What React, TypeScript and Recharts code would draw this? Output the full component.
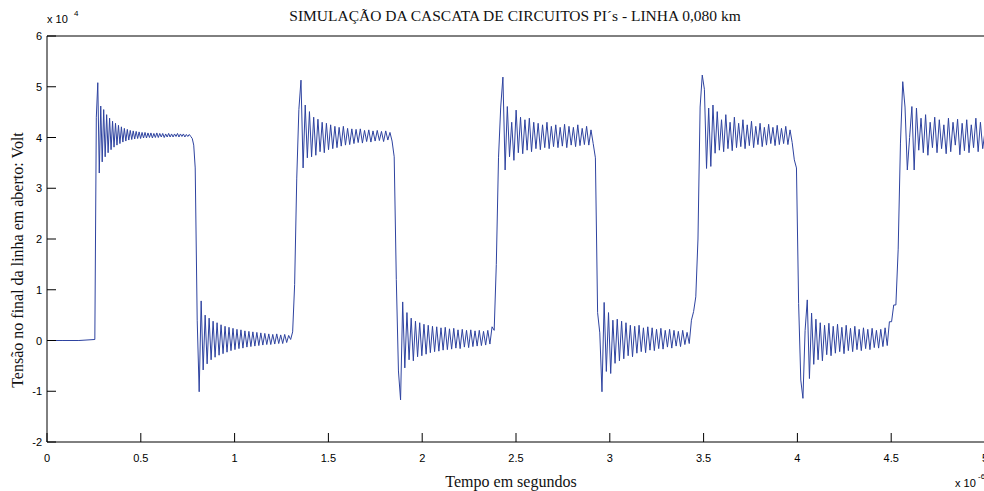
import { Line, LineChart, XAxis, YAxis } from 'recharts'

// tempo em microssegundos (x 10^-6 s), tensão em x 10^4 V
// limites de cada trecho (borda de subida / descida)
const limites = [0, 0.255, 0.79, 1.32, 1.862, 2.395, 2.935, 3.47, 3.995, 4.525, 5.0]

const repouso = [0, 0, 0]

const alto1 = [
  0.02, 4.4, 5.08, 3.3, 4.62, 3.52, 4.55, 3.62, 4.45, 3.7, 4.38, 3.76, 4.32, 3.81, 4.28, 3.85, 4.24,
  3.88, 4.21, 3.91, 4.18, 3.93, 4.16, 3.95, 4.14, 3.96, 4.13, 3.97, 4.12, 3.98, 4.11, 3.98, 4.1, 3.99,
  4.1, 3.99, 4.09, 4.0, 4.09, 3.99, 4.08, 4.0, 4.09, 4.0, 4.08, 4.01, 4.08, 4.0, 4.07, 4.01, 4.08, 4.01,
  4.07, 4.01, 4.07, 4.02, 4.08, 4.01, 4.07, 4.02, 4.07, 4.01, 4.06, 4.02, 4.06, 4.02, 3.98, 3.85,
]

const baixo1 = [
  3.4, 0.4, -1.01, 0.78, -0.58, 0.5, -0.46, 0.44, -0.38, 0.38, -0.33, 0.35, -0.29, 0.31, -0.26, 0.28,
  -0.23, 0.26, -0.2, 0.24, -0.18, 0.22, -0.16, 0.21, -0.15, 0.19, -0.13, 0.18, -0.12, 0.17, -0.11, 0.16,
  -0.1, 0.15, -0.09, 0.14, -0.08, 0.13, -0.08, 0.12, -0.07, 0.13, -0.06, 0.11, -0.06, 0.12, -0.04, 0.1,
  0.02, 0.17,
]

const alto2 = [
  1.1, 3.2, 4.55, 5.13, 3.4, 4.64, 3.6, 4.51, 3.62, 4.4, 3.65, 4.36, 3.72, 4.3, 3.7, 4.28, 3.76, 4.25,
  3.78, 4.22, 3.8, 4.2, 3.83, 4.22, 3.85, 4.18, 3.86, 4.17, 3.88, 4.16, 3.9, 4.17, 3.89, 4.14, 3.92, 4.15,
  3.91, 4.13, 3.93, 4.14, 3.94, 4.12, 3.92, 4.13, 3.95, 4.1, 3.93, 3.62,
]

const baixo2 = [
  1.2, -0.6, -1.17, 0.76, -0.54, 0.55, -0.38, 0.44, -0.4, 0.38, -0.32, 0.35, -0.3, 0.32, -0.27, 0.3,
  -0.24, 0.28, -0.22, 0.27, -0.21, 0.25, -0.19, 0.26, -0.18, 0.23, -0.17, 0.24, -0.15, 0.21, -0.16, 0.22,
  -0.13, 0.2, -0.14, 0.21, -0.12, 0.19, -0.11, 0.2, -0.1, 0.18, -0.09, 0.2, -0.07, 0.27, 0.2,
]

const alto3 = [
  1.5, 3.6, 4.6, 5.19, 3.36, 4.61, 3.62, 4.3, 3.55, 4.54, 3.7, 4.4, 3.68, 4.35, 3.75, 4.38, 3.72, 4.3,
  3.78, 4.28, 3.76, 4.25, 3.8, 4.3, 3.78, 4.22, 3.82, 4.25, 3.8, 4.2, 3.83, 4.26, 3.8, 4.22, 3.85, 4.2,
  3.82, 4.25, 3.84, 4.18, 3.86, 4.22, 3.85, 4.15, 3.88, 3.6,
]

const baixo3 = [
  0.55, 0.15, -1.01, 0.75, -0.61, 0.55, -0.65, 0.4, -0.45, 0.42, -0.4, 0.38, -0.36, 0.35, -0.3, 0.3,
  -0.32, 0.28, -0.25, 0.3, -0.22, 0.25, -0.24, 0.27, -0.19, 0.25, -0.2, 0.22, -0.16, 0.24, -0.17, 0.2,
  -0.13, 0.22, -0.15, 0.2, -0.11, 0.18, -0.12, 0.2, -0.08, 0.16, -0.06, 0.4, 0.57, 0.86,
]

const alto4 = [
  2.0, 4.6, 5.23, 4.95, 3.39, 4.58, 3.43, 4.64, 3.69, 4.51, 3.75, 4.35, 3.72, 4.45, 3.78, 4.3, 3.74, 4.4,
  3.8, 4.28, 3.82, 4.35, 3.78, 4.25, 3.84, 4.32, 3.8, 4.22, 3.86, 4.28, 3.82, 4.2, 3.85, 4.26, 3.88, 4.2,
  3.84, 4.24, 3.86, 4.18, 3.88, 4.22, 3.86, 4.15, 3.9, 3.56,
]

const baixo4 = [
  3.4, 0.73, -0.78, -1.14, 0.2, 0.8, -0.75, 0.54, -0.47, 0.42, -0.38, 0.35, -0.4, 0.3, -0.28, 0.34, -0.3,
  0.28, -0.25, 0.32, -0.22, 0.26, -0.26, 0.3, -0.2, 0.24, -0.22, 0.28, -0.18, 0.22, -0.2, 0.25, -0.16,
  0.22, -0.18, 0.24, -0.14, 0.2, -0.15, 0.22, -0.12, 0.25, -0.1, 0.37, 0.37, 0.7,
]

const alto5 = [
  0.7, 1.8, 3.89, 5.1, 4.6, 3.36, 4.0, 4.61, 3.36, 4.58, 3.75, 4.38, 3.7, 4.45, 3.65, 4.3, 3.8, 4.4, 3.7,
  4.35, 3.78, 4.25, 3.68, 4.38, 3.72, 4.3, 3.85, 4.36, 3.66, 4.28, 3.74, 4.35, 3.7, 4.25, 3.8, 4.38, 3.72,
  4.3, 3.78, 4.12,
]

const trechos = [repouso, alto1, baixo1, alto2, baixo2, alto3, baixo3, alto4, baixo4, alto5]

const ticksX = [0, 0.5, 1, 1.5, 2, 2.5, 3, 3.5, 4, 4.5, 5]
const ticksY = [-2, -1, 0, 1, 2, 3, 4, 5, 6]

const dados = trechos.flatMap((vals, k) => {
  const t0 = limites[k]
  const t1 = limites[k + 1]
  const n = k === trechos.length - 1 ? vals.length - 1 : vals.length
  return vals.map((v, i) => ({ t: t0 + (i * (t1 - t0)) / n, v }))
})

const sans = '"Liberation Sans", Arial, sans-serif'
const serif = '"Liberation Serif", "Times New Roman", serif'

// ticks para dentro (tickSize negativo): y/x recebidos ficam 9px dentro do eixo
function TickX({ x, y, payload }: any) {
  return (
    <text x={x} y={y + 29} textAnchor="middle" fontSize={11} fontFamily={sans} fill="#000">
      {payload.value}
    </text>
  )
}

function TickY({ x, y, payload }: any) {
  return (
    <text x={x - 14} y={y + 4} textAnchor="end" fontSize={11} fontFamily={sans} fill="#000">
      {payload.value}
    </text>
  )
}

export default function App() {
  return (
    <div style={{ position: 'relative', width: 984, height: 491, background: '#fff' }}>
      <style>{'body{margin:0}'}</style>
      <LineChart width={984} height={491} data={dados} margin={{ top: 35, right: -2, bottom: 0, left: 0 }}>
        <XAxis
          xAxisId="b"
          dataKey="t"
          type="number"
          domain={[0, 5]}
          ticks={ticksX}
          interval={0}
          height={49}
          tickSize={-9}
          tickMargin={0}
          stroke="#000"
          tick={<TickX />}
        />
        <XAxis
          xAxisId="t"
          orientation="top"
          dataKey="t"
          type="number"
          domain={[0, 5]}
          ticks={ticksX}
          interval={0}
          height={1}
          tickSize={-9}
          tickMargin={0}
          stroke="#000"
          tick={false}
        />
        <YAxis
          yAxisId="l"
          type="number"
          domain={[-2, 6]}
          ticks={ticksY}
          interval={0}
          width={47}
          tickSize={-9}
          tickMargin={0}
          allowDataOverflow
          stroke="#000"
          tick={<TickY />}
        />
        <YAxis
          yAxisId="r"
          orientation="right"
          type="number"
          domain={[-2, 6]}
          ticks={ticksY}
          interval={0}
          width={1}
          tickSize={-9}
          tickMargin={0}
          allowDataOverflow
          stroke="#000"
          tick={false}
        />
        <Line
          xAxisId="b"
          yAxisId="l"
          dataKey="v"
          type="linear"
          stroke="#2e43a0"
          strokeWidth={1}
          dot={false}
          isAnimationActive={false}
        />
      </LineChart>
      <svg width={984} height={491} style={{ position: 'absolute', left: 0, top: 0, pointerEvents: 'none' }}>
        <text x={515} y={21} textAnchor="middle" fontSize={15.5} fontFamily={serif} fill="#111">
          SIMULAÇÃO DA CASCATA DE CIRCUITOS PI´s - LINHA 0,080 km
        </text>
        <text x={47} y={23} fontSize={11} fontFamily={sans} fill="#000">x 10</text>
        <text x={74} y={16} fontSize={8} fontFamily={sans} fill="#000">4</text>
        <text
          x={0}
          y={0}
          transform="translate(23,260) rotate(-90)"
          textAnchor="middle"
          fontSize={16}
          fontFamily={serif}
          fill="#111"
        >
          Tensão no final da linha em aberto: Volt
        </text>
        <text x={511} y={487} textAnchor="middle" fontSize={16} fontFamily={serif} fill="#111">
          Tempo em segundos
        </text>
        <text x={955} y={487} fontSize={11} fontFamily={sans} fill="#000">x 10</text>
        <text x={978} y={479} fontSize={8} fontFamily={sans} fill="#000">-6</text>
      </svg>
    </div>
  )
}
